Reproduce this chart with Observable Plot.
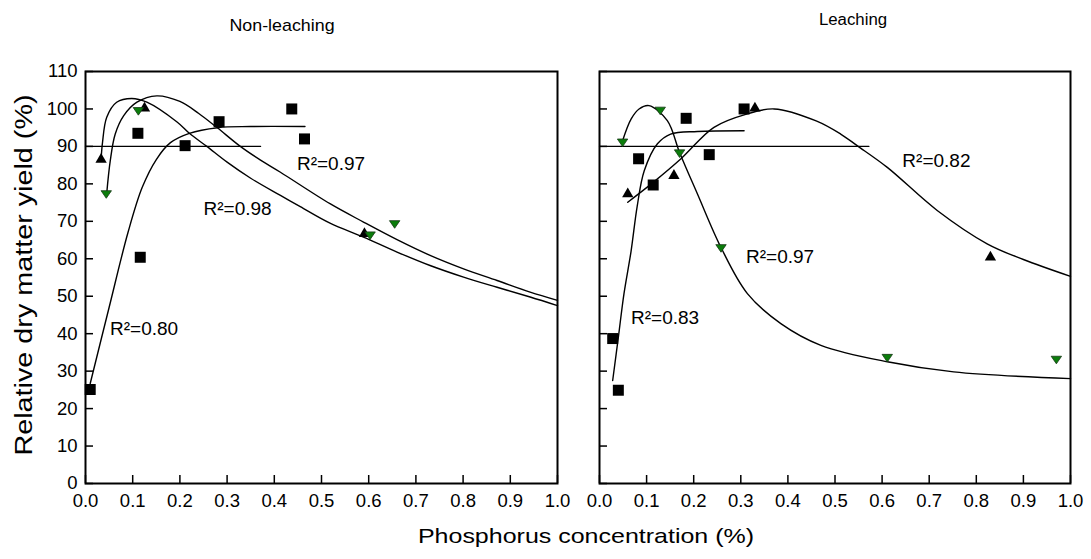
<!DOCTYPE html>
<html><head><meta charset="utf-8">
<script src="https://cdn.jsdelivr.net/npm/d3@7"></script>
<script src="https://cdn.jsdelivr.net/npm/@observablehq/plot@0.6"></script>
<style>
body{margin:0;background:#fff;}
#wrap{position:relative;width:1091px;height:559px;overflow:hidden;font-family:Arial,"Liberation Sans",sans-serif;color:#000;}
.abs{position:absolute;white-space:nowrap;line-height:1;}
.abs svg{overflow:visible;}
</style></head><body><div id="wrap"></div>
<script>
// ---- text ----
const panelTitles = ["Non-leaching", "Leaching"];
const xTitle = "Phosphorus concentration (%)";
const yTitle = "Relative dry matter yield (%)";
const xTicks = [0, 0.1, 0.2, 0.3, 0.4, 0.5, 0.6, 0.7, 0.8, 0.9, 1.0];
const yTicks = [0, 10, 20, 30, 40, 50, 60, 70, 80, 90, 100, 110];

// ---- Non-leaching: observations [P %, yield %] ----
const nlSquares = [[0.01,25.1],[0.111,93.5],[0.116,60.4],[0.211,90.2],[0.283,96.6],[0.437,100],[0.464,92]];
const nlUp = [[0.033,86.5],[0.125,100.2],[0.591,66.7]];
const nlDown = [[0.044,77.5],[0.112,99.7],[0.603,66.5],[0.655,69.5]];
// fitted curves
const nlSquareFit = [[0.01,26.7],[0.05,47],[0.09,67],[0.12,79],[0.15,86.5],[0.18,91],[0.22,93.5],[0.28,95],[0.35,95.3],[0.465,95.3]];
const nlUpFit = [[0.033,86.5],[0.036,91],[0.045,97.8],[0.066,101.8],[0.098,102.8],[0.13,101.8],[0.194,96.5],[0.22,93.5],[0.257,90],[0.3,85.8],[0.35,81.5],[0.413,76.9],[0.455,73.9],[0.518,69.5],[0.589,65.8],[0.66,61.8],[0.73,58.2],[0.801,55.1],[0.872,52.4],[0.942,49.8],[1.0,47.5]];
const nlDownFit = [[0.045,77.5],[0.0525,86.2],[0.063,93.3],[0.081,98.2],[0.109,101.8],[0.151,103.5],[0.2,102],[0.24,98.8],[0.278,95.1],[0.328,90],[0.37,86.4],[0.413,83.1],[0.518,74.7],[0.589,69.8],[0.66,65.1],[0.73,60.9],[0.801,57.3],[0.872,54.2],[0.942,51.1],[1.0,48.9]];
const nlRef = [[0,90],[0.371,90]];
const nlLabels = [
  {x:0.448, y:85.4, text:"R²=0.97"},
  {x:0.25, y:73.4, text:"R²=0.98"},
  {x:0.052, y:41.4, text:"R²=0.80"}
];

// ---- Leaching: observations ----
const lSquares = [[0.028,38.7],[0.040,24.9],[0.083,86.7],[0.114,79.7],[0.184,97.5],[0.233,87.8],[0.307,100]];
const lUp = [[0.06,77.3],[0.158,82.2],[0.33,100.2],[0.83,60.4]];
const lDown = [[0.049,91.3],[0.129,99.8],[0.17,88.4],[0.258,63.1],[0.611,33.8],[0.97,33.3]];
const lSquareFit = [[0.028,27.5],[0.04,39],[0.052,50.7],[0.067,62],[0.08,74],[0.095,83.5],[0.123,90.7],[0.151,93.3],[0.208,94],[0.307,94.2]];
const lUpFit = [[0.06,75.1],[0.114,80.4],[0.173,86.7],[0.243,95.1],[0.314,98.7],[0.371,100],[0.46,96.8],[0.512,93.3],[0.547,90.2],[0.611,84.4],[0.717,72.9],[0.823,64],[0.9,59.8],[1.0,55.3]];
const lDownFit = [[0.049,91.5],[0.067,97.3],[0.084,100],[0.105,100.9],[0.144,96.9],[0.17,88.4],[0.208,77.3],[0.258,63],[0.314,50.7],[0.385,42.7],[0.47,36.9],[0.611,32.5],[0.752,29.8],[1.0,28]];
const lRef = [[0,90],[0.572,90]];
const lLabels = [
  {x:0.643, y:86.2, text:"R²=0.82"},
  {x:0.311, y:60.6, text:"R²=0.97"},
  {x:0.067, y:44.2, text:"R²=0.83"}
];

// down-pointing triangle symbol
const triangleDown = {
  draw(context, size) {
    const r = Math.sqrt(size / Math.PI);
    const w = r * 1.3, h = r * 1.9;
    context.moveTo(-w, -h / 3);
    context.lineTo(w, -h / 3);
    context.lineTo(0, 2 * h / 3);
    context.closePath();
  }
};

const FONT = 'Arial, "Liberation Sans", sans-serif';
const px = d => d[0], py = d => d[1];

function panel({width, marginLeft, marginRight, showY, squares, up, down, squareFit, upFit, downFit, ref, labels}) {
  const height = 510, marginTop = 71, marginBottom = 27;
  const innerW = width - marginLeft - marginRight;
  const innerH = height - marginTop - marginBottom;
  const lineOpts = {x: px, y: py, stroke: "#000", strokeWidth: 1.4, curve: "catmull-rom"};
  const marks = [
    Plot.line(ref, {x: px, y: py, stroke: "#000", strokeWidth: 1.2}),
    Plot.line(squareFit, lineOpts),
    Plot.line(upFit, lineOpts),
    Plot.line(downFit, lineOpts),
    Plot.dot(squares, {x: px, y: py, symbol: "square", r: 6.2, fill: "#000", stroke: "none"}),
    Plot.dot(up, {x: px, y: py, symbol: "triangle", r: 4.2, fill: "#000", stroke: "none"}),
    Plot.dot(down, {x: px, y: py, symbol: triangleDown, r: 4, fill: "#0b7d0b", stroke: "#163816", strokeWidth: 0.8}),
    Plot.text(labels, {x: "x", y: "y", text: "text", textAnchor: "start", fontSize: 19}),
    Plot.tickX(xTicks, {x: d => d, insetTop: innerH - 8, stroke: "#000", strokeWidth: 1.5}),
    Plot.tickY(yTicks, {y: d => d, insetRight: innerW - 8, stroke: "#000", strokeWidth: 1.5}),
    Plot.text(xTicks, {x: d => d, frameAnchor: "bottom", dy: 18, lineAnchor: "middle", text: d3.format(".1f"), fontSize: 18.5}),
    Plot.frame({stroke: "#000", strokeWidth: 2})
  ];
  if (showY) marks.push(Plot.text(yTicks, {y: d => d, frameAnchor: "left", dx: -8, textAnchor: "end", text: d => String(d), fontSize: 18.5}));
  return Plot.plot({
    width, height, marginTop, marginBottom, marginLeft, marginRight,
    x: {domain: [0, 1], axis: null},
    y: {domain: [0, 110], axis: null},
    style: {fontFamily: FONT, color: "#000", background: "transparent", overflow: "visible"},
    marks
  });
}

const wrap = document.getElementById("wrap");
function place(node, left, top) {
  const d = document.createElement("div");
  d.className = "abs";
  d.style.left = left + "px"; d.style.top = top + "px";
  d.appendChild(node);
  wrap.appendChild(d);
  return d;
}
place(panel({width: 580, marginLeft: 85, marginRight: 23, showY: true,
  squares: nlSquares, up: nlUp, down: nlDown, squareFit: nlSquareFit, upFit: nlUpFit, downFit: nlDownFit, ref: nlRef, labels: nlLabels}), 0, 0);
place(panel({width: 531, marginLeft: 39, marginRight: 21, showY: false,
  squares: lSquares, up: lUp, down: lDown, squareFit: lSquareFit, upFit: lUpFit, downFit: lDownFit, ref: lRef, labels: lLabels}), 560, 0);

function label(text, cx, cy, size, transform) {
  const d = document.createElement("div");
  d.className = "abs";
  d.textContent = text;
  d.style.left = cx + "px"; d.style.top = cy + "px";
  d.style.fontSize = size + "px";
  d.style.transform = "translate(-50%,-50%) " + (transform || "");
  wrap.appendChild(d);
}
label(panelTitles[0], 282, 25, 17, "scaleX(1.05)");
label(panelTitles[1], 853, 20, 16, "scaleX(1.05)");
label(xTitle, 586, 535, 21, "scaleX(1.19)");
label(yTitle, 24, 275, 23, "rotate(-90deg) scaleX(1.25)");
</script>
</body></html>
